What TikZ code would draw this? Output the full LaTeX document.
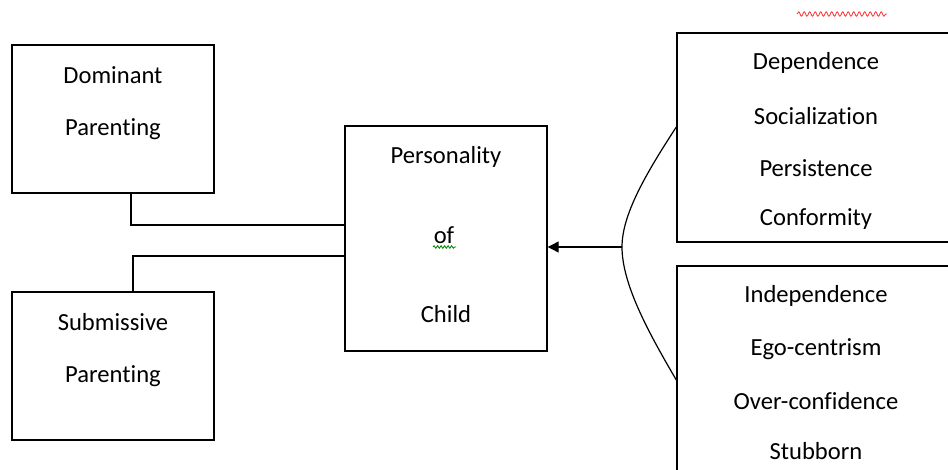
\documentclass[tikz,border=0pt]{standalone}
\usepackage{fontspec}
\setmainfont{Carlito}[Ligatures={NoCommon}]
\usetikzlibrary{arrows.meta,decorations.pathmorphing}
\begin{document}
\begin{tikzpicture}[x=1pt,y=-1pt,
  box/.style={draw=black,line width=1.4pt,minimum width=#1,inner sep=0pt},
  lbl/.style={font=\fontsize{24.6}{28}\selectfont,inner sep=0pt,text=black},
  conn/.style={draw=black,line width=1.4pt},
  squig/.style={decorate,decoration={snake,amplitude=1.3pt,segment length=3.5pt},line width=0.8pt}]
\useasboundingbox (0,0) rectangle (948,470);
\clip (0,0) rectangle (948,470);
% boxes
\node[box=202pt,minimum height=148pt] (dom) at (113,119) {};
\node[box=202pt,minimum height=148pt] (sub) at (113,366) {};
\node[box=202pt,minimum height=225pt] (pers) at (446,238.5) {};
\node[box=283pt,minimum height=209pt] (rt) at (818.5,137.5) {};
\node[box=283pt,minimum height=214pt] (rb) at (818.5,373) {};
% texts
\node[lbl] (t1) at (113,75) {Dominant};
\node[lbl] (t2) at (113,129) {Parenting};
\node[lbl] (t3) at (113,322) {Submissive};
\node[lbl] (t4) at (113,376) {Parenting};
\node[lbl] (t5) at (446,157) {Personality};
\node[lbl] (t6) at (444,235) {of};
\node[lbl] (t7) at (446,314) {Child};
\node[lbl] (t8) at (816,63) {Dependence};
\node[lbl] (t9) at (816,116) {Socialization};
\node[lbl] (t10) at (816,168) {Persistence};
\node[lbl] (t11) at (816,219) {Conformity};
\node[lbl] (t12) at (816,296) {Independence};
\node[lbl] (t13) at (816,349) {Ego-centrism};
\node[lbl] (t14) at (816,401) {Over-confidence};
\node[lbl] (t15) at (816,451) {Stubborn};
% squiggles
\coordinate (g1) at (433,247);
\coordinate (g2) at (456,247);
\draw[squig,draw=green!50!black] (g1) -- (g2);
\coordinate (r1) at (797,14);
\coordinate (r2) at (887,14);
\draw[squig,draw=red!80,decoration={amplitude=2.2pt,segment length=5.5pt}] (r1) -- (r2);
% connectors
\coordinate (c1) at (0,225);
\coordinate (c2) at (0,256);
\draw[conn] ([xshift=18pt]dom.south) |- (pers.west |- c1);
\draw[conn] ([xshift=20pt]sub.north) |- (pers.west |- c2);
\coordinate (tip) at (622,247);
\coordinate (a1) at (0,127);
\coordinate (a2) at (0,380);
\draw[conn,line width=1.2pt,-{Triangle[length=11pt,width=11pt]}] (tip) -- (pers.east |- tip);
\draw[conn,line width=1.2pt] (rt.west |- a1) .. controls (645,175) and (622,215) .. (tip)
  .. controls (622,285) and (650,335) .. (rb.west |- a2);
\end{tikzpicture}
\end{document}
